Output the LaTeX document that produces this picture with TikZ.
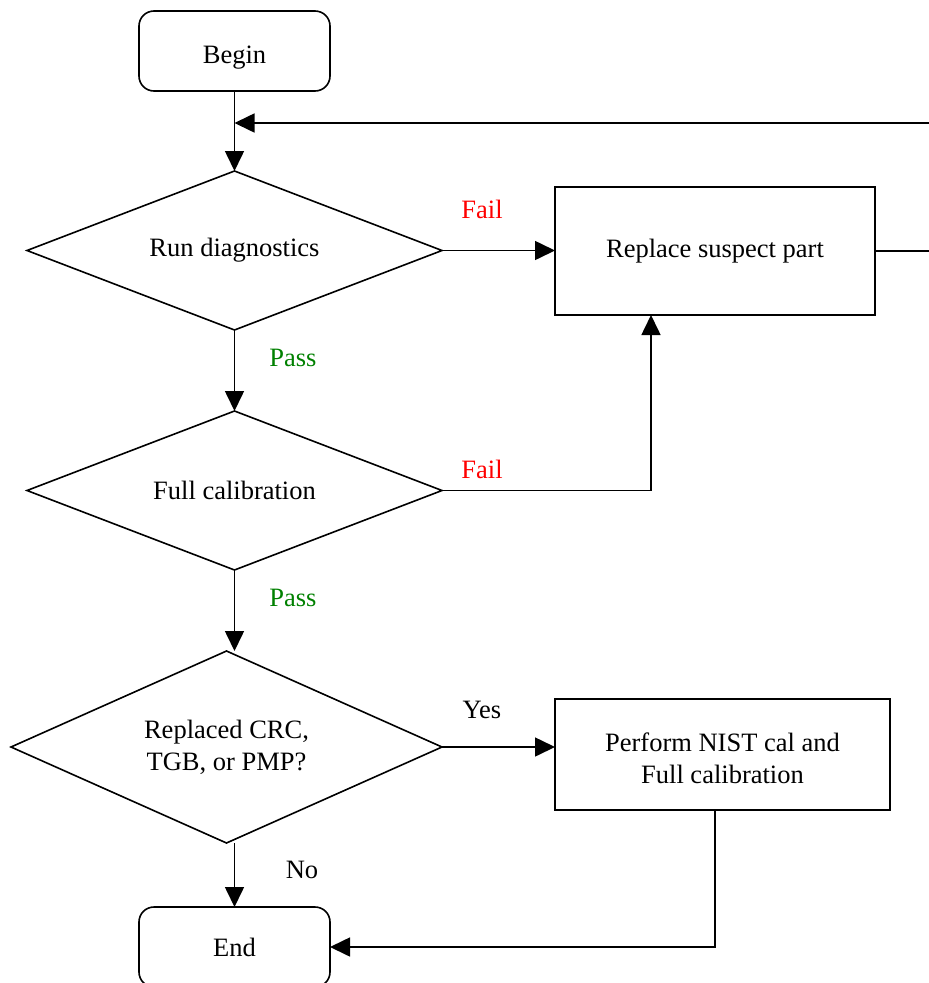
\documentclass[tikz,border=0pt]{standalone}
\usepackage{fontspec}
\setmainfont{Liberation Serif}
\usetikzlibrary{shapes.geometric,arrows.meta,calc}
\definecolor{passgreen}{RGB}{0,128,0}
\definecolor{failred}{RGB}{255,0,0}
\begin{document}
\begin{tikzpicture}[x=1pt,y=-1pt,
  every node/.style={font=\fontsize{26.5}{32}\selectfont},
  term/.style={draw,line width=1.6pt,rounded corners=15pt,minimum width=191pt,minimum height=80pt,inner sep=0pt,outer sep=0pt},
  dec/.style={draw,line width=1.6pt,shape=diamond,inner sep=0pt,outer sep=0pt,align=center},
  proc/.style={draw,line width=1.6pt,inner sep=0pt,outer sep=0pt,align=center},
  arr/.style={line width=1.6pt,-{Triangle[length=20pt,width=19pt]}},
  lbl/.style={inner sep=0pt}]
\useasboundingbox (0,0) rectangle (929,983);
\clip (0,0) rectangle (929,983);
\node[term] (begin) at (234.5,51) {\raisebox{-7pt}[\height][\depth]{Begin}};
\node[dec,aspect=2.61,minimum width=415pt,minimum height=159pt] (d1) at (234.5,250.5) {Run diagnostics};
\node[dec,aspect=2.61,minimum width=415pt,minimum height=159pt] (d2) at (234.5,490.5) {Full calibration};
\node[dec,aspect=2.245,minimum width=431pt,minimum height=192pt] (d3) at (226.5,747) {Replaced CRC,\\TGB, or PMP?};
\node[term] (end) at (234.5,947) {End};
\node[proc,minimum width=320pt,minimum height=128pt] (r1) at (715,251) {Replace suspect part};
\node[proc,minimum width=335pt,minimum height=111pt] (r2) at (722.5,754.5) {\raisebox{-7pt}[\height][\depth]{\begin{tabular}{@{}c@{}}Perform NIST cal and\\Full calibration\end{tabular}}};
\coordinate (fb) at (234.5,123);
\coordinate (fbr) at (940,251);
\coordinate (f2) at (651,315);
\draw[arr] (begin.south) -- (d1.north);
\draw[arr] (d1.south) -- (d2.north);
\draw[arr] (d2.south) -- (d2.south |- d3.north);
\draw[arr] (end.north |- d3.south) -- (end.north);
\draw[arr] (d1.east) -- (d1.east -| r1.west);
\draw[arr] (d2.east) -| (f2);
\draw[arr] (d3.east) -- (d3.east -| r2.west);
\draw[arr] ([xshift=-7.5pt]r2.south) |- (end.east);
\draw[line width=1.6pt] (r1.east) -- (fbr);
\draw[arr] (fbr) |- (fb);
\node[lbl,text=failred] (l1) at (482,209) {Fail};
\node[lbl,text=passgreen] (l2) at (293,358) {Pass};
\node[lbl,text=failred] (l3) at (482,469) {Fail};
\node[lbl,text=passgreen] (l4) at (293,598) {Pass};
\node[lbl] (l5) at (482,710) {Yes};
\node[lbl] (l6) at (302,870) {No};
\end{tikzpicture}
\end{document}
